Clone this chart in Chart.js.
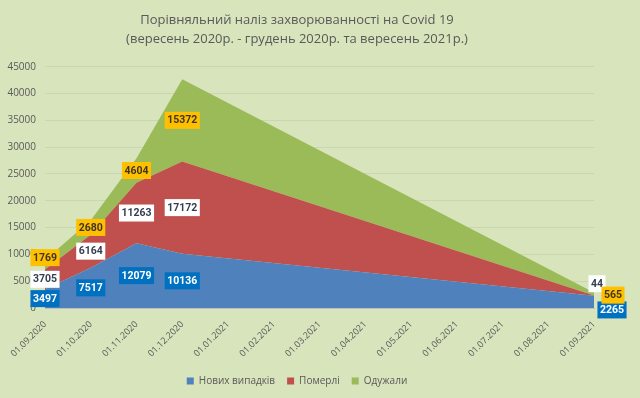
<!DOCTYPE html>
<html>
<head>
<meta charset="utf-8">
<script src="https://cdn.jsdelivr.net/npm/chart.js@4"></script>
<style>
  html, body { margin: 0; padding: 0; background: #D8E4BC; }
  #wrap { width: 640px; height: 398px; }
</style>
</head>
<body>
<div id="wrap"><canvas id="covidChart"></canvas></div>
<script>
// axis months (tick labels)
const months = ['01.09.2020', '01.10.2020', '01.11.2020', '01.12.2020', '01.01.2021', '01.02.2021',
  '01.03.2021', '01.04.2021', '01.05.2021', '01.06.2021', '01.07.2021', '01.08.2021', '01.09.2021'];

// dates that actually have data
const dataDates = ['01.09.2020', '01.10.2020', '01.11.2020', '01.12.2020', '01.09.2021'];

const newCases = [3497, 7517, 12079, 10136, 2265];
const deaths = [3705, 6164, 11263, 17172, 44];
const recovered = [1769, 2680, 4604, 15372, 565];

const yTicks = [0, 5000, 10000, 15000, 20000, 25000, 30000, 35000, 40000, 45000];

const seriesNames = ['Нових випадків', 'Померлі', 'Одужали'];

// label look per series
const labelStyle = [
  { bg: '#0070C0', fg: '#ffffff' },
  { bg: '#ffffff', fg: '#333F50' },
  { bg: '#FFC000', fg: '#403520' },
];
// small manual nudges for crowded labels (series-point)
const labelNudge = {
  '2-0': [0, -7],
  '0-4': [18, 8],
  '1-4': [3, -12],
  '2-4': [19, 1],
};

function toPoints(values) {
  return values.map((v, i) => ({ x: months.indexOf(dataDates[i]), y: v }));
}

const boxLabels = {
  id: 'boxLabels',
  afterDatasetsDraw(chart) {
    const ctx = chart.ctx;
    const yScale = chart.scales.y;
    const base = dataDates.map(() => 0);
    ctx.save();
    ctx.font = 'bold 10.5px Roboto';
    ctx.textAlign = 'center';
    ctx.textBaseline = 'middle';
    chart.data.datasets.forEach((ds, di) => {
      const meta = chart.getDatasetMeta(di);
      meta.data.forEach((pt, i) => {
        const v = ds.data[i].y;
        const mid = yScale.getPixelForValue(base[i] + v / 2);
        base[i] += v;
        const nudge = labelNudge[di + '-' + i] || [0, 0];
        const x = pt.x + nudge[0];
        const y = mid + nudge[1];
        const text = String(v);
        const w = ctx.measureText(text).width + 5;
        const h = 17;
        ctx.fillStyle = labelStyle[di].bg;
        ctx.fillRect(x - w / 2, y - h / 2, w, h);
        ctx.fillStyle = labelStyle[di].fg;
        ctx.fillText(text, x, y + 0.5);
      });
    });
    ctx.restore();
  }
};

const ctx = document.getElementById('covidChart').getContext('2d');
new Chart(ctx, {
  type: 'line',
  data: {
    datasets: [
      { label: seriesNames[0], data: toPoints(newCases), backgroundColor: '#4F81BD', borderColor: '#4F81BD', fill: 'origin' },
      { label: seriesNames[1], data: toPoints(deaths), backgroundColor: '#C0504D', borderColor: '#C0504D', fill: '-1' },
      { label: seriesNames[2], data: toPoints(recovered), backgroundColor: '#9BBB59', borderColor: '#9BBB59', fill: '-1' },
    ],
  },
  options: {
    responsive: true,
    maintainAspectRatio: false,
    animation: false,
    elements: {
      point: { radius: 0, hoverRadius: 0 },
      line: { borderWidth: 0, tension: 0 },
    },
    layout: { padding: { left: 0, right: 46, top: 0, bottom: 2 } },
    plugins: {
      title: {
        display: true,
        text: ['Порівняльний наліз захворюванності на Covid 19', '(вересень 2020р. - грудень 2020р. та вересень 2021р.)'],
        color: '#595959',
        font: { family: 'Open Sans', size: 13, weight: 'normal', lineHeight: 1.45 },
        padding: { top: 11, bottom: 18 },
      },
      legend: {
        position: 'bottom',
        labels: {
          color: '#595959',
          font: { family: 'Open Sans', size: 10 },
          boxWidth: 7,
          boxHeight: 7,
          padding: 12,
        },
      },
      tooltip: { enabled: false },
    },
    scales: {
      x: {
        type: 'linear',
        min: 0,
        max: months.length - 1,
        grid: { display: false },
        border: { display: true, color: '#BFBFBF' },
        afterBuildTicks: (s) => { s.ticks = months.map((m, i) => ({ value: i })); },
        ticks: {
          autoSkip: false,
          maxRotation: 45,
          minRotation: 45,
          color: '#595959',
          font: { family: 'Open Sans', size: 9 },
          callback: (v) => months[v],
        },
        afterFit: (s) => { s.height = 56; },
      },
      y: {
        stacked: true,
        min: 0,
        max: 45000,
        afterBuildTicks: (s) => { s.ticks = yTicks.map((v) => ({ value: v })); },
        grid: { color: 'rgba(0,0,0,0.06)', drawTicks: false },
        border: { display: false },
        ticks: {
          color: '#595959',
          padding: 9,
          font: { family: 'Open Sans', size: 10 },
          callback: (v) => String(v),
        },
        afterFit: (s) => { s.width = 45; },
      },
    },
  },
  plugins: [boxLabels],
});
</script>
</body>
</html>
